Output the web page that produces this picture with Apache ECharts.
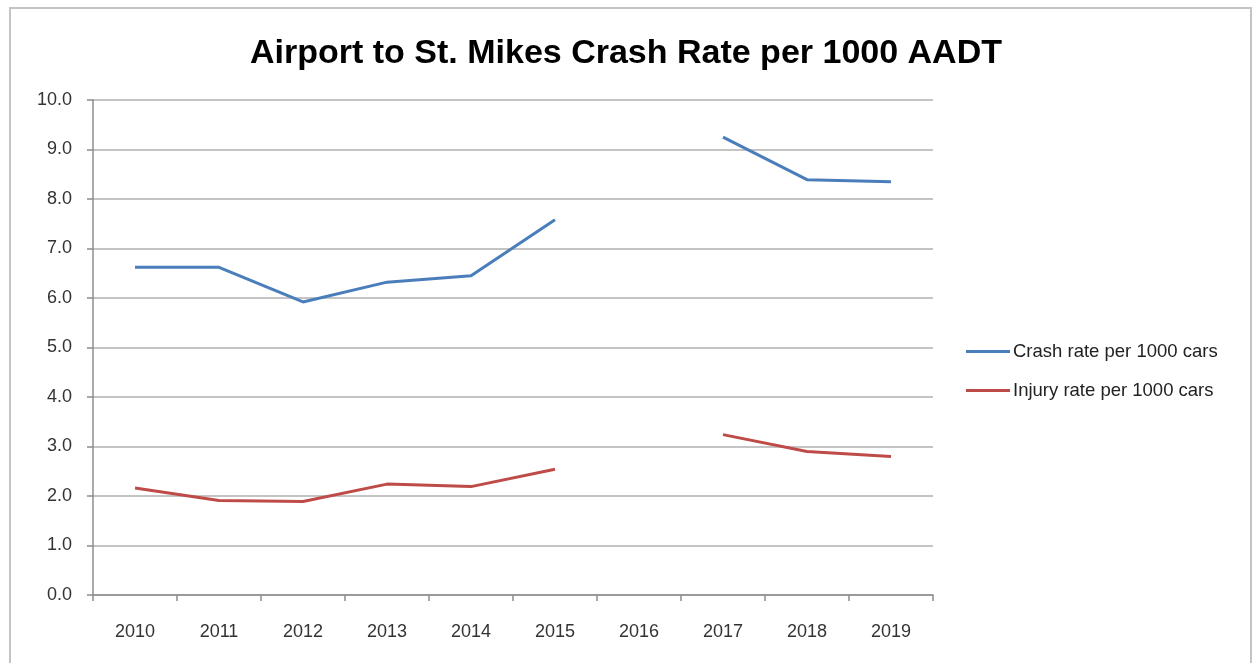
<!DOCTYPE html>
<html>
<head>
<meta charset="utf-8">
<script src="https://cdn.jsdelivr.net/npm/echarts@6/dist/echarts.min.js"></script>
<style>
html,body{margin:0;padding:0;background:#fff;}
#chart{width:1252px;height:663px;}
</style>
</head>
<body>
<div id="chart"></div>
<script>
const titleText = 'Airport to St. Mikes Crash Rate per 1000 AADT';
const years = ['2010','2011','2012','2013','2014','2015','2016','2017','2018','2019'];
const crashRate = [6.62, 6.62, 5.92, 6.32, 6.45, 7.58, null, 9.25, 8.39, 8.35];
const injuryRate = [2.16, 1.91, 1.89, 2.24, 2.19, 2.54, null, 3.24, 2.90, 2.80];
const seriesNames = ['Crash rate per 1000 cars', 'Injury rate per 1000 cars'];

const font = '"Liberation Sans", Arial, sans-serif';
const chart = echarts.init(document.getElementById('chart'));
chart.setOption({
  animation: false,
  backgroundColor: '#fff',
  graphic: [{
    type: 'rect',
    shape: {x: 10, y: 8, width: 1241, height: 700},
    style: {fill: 'none', stroke: '#c4c4c4', lineWidth: 2},
    silent: true
  }],
  title: {
    text: titleText,
    left: 'center',
    top: 32,
    textStyle: {fontFamily: font, fontSize: 34, fontWeight: 'bold', color: '#000'}
  },
  legend: {
    orient: 'vertical',
    left: 961,
    top: 337,
    itemWidth: 44,
    itemHeight: 14,
    itemGap: 20,
    icon: 'path://M0,0 L44,0 L44,3 L0,3 Z',
    textStyle: {fontFamily: font, fontSize: 18.5, color: '#222', padding: [0,0,0,-2]},
    data: seriesNames
  },
  grid: {left: 93, right: 319, top: 100, bottom: 68, containLabel: false},
  xAxis: {
    type: 'category',
    data: years,
    boundaryGap: true,
    axisLine: {lineStyle: {color: '#8c8c8c', width: 1.5}},
    axisTick: {show: true, alignWithLabel: false, length: 6, lineStyle: {color: '#8c8c8c', width: 1.5}},
    axisLabel: {fontFamily: font, fontSize: 18, color: '#333', margin: 28},
    splitLine: {show: false}
  },
  yAxis: {
    type: 'value',
    min: 0, max: 10, interval: 1,
    axisLine: {show: true, lineStyle: {color: '#8c8c8c', width: 1.5}},
    axisTick: {show: true, length: 6, lineStyle: {color: '#8c8c8c', width: 1.5}},
    axisLabel: {fontFamily: font, fontSize: 18, color: '#333', margin: 21,
      formatter: v => v.toFixed(1)},
    splitLine: {lineStyle: {color: '#b0b0b0', width: 1.5}}
  },
  series: [
    {name: seriesNames[0], type: 'line', data: crashRate, showSymbol: false, connectNulls: false,
     lineStyle: {color: '#4a7ebb', width: 3}, itemStyle: {color: '#4a7ebb'}},
    {name: seriesNames[1], type: 'line', data: injuryRate, showSymbol: false, connectNulls: false,
     lineStyle: {color: '#be4b48', width: 3}, itemStyle: {color: '#be4b48'}}
  ]
});
</script>
</body>
</html>
